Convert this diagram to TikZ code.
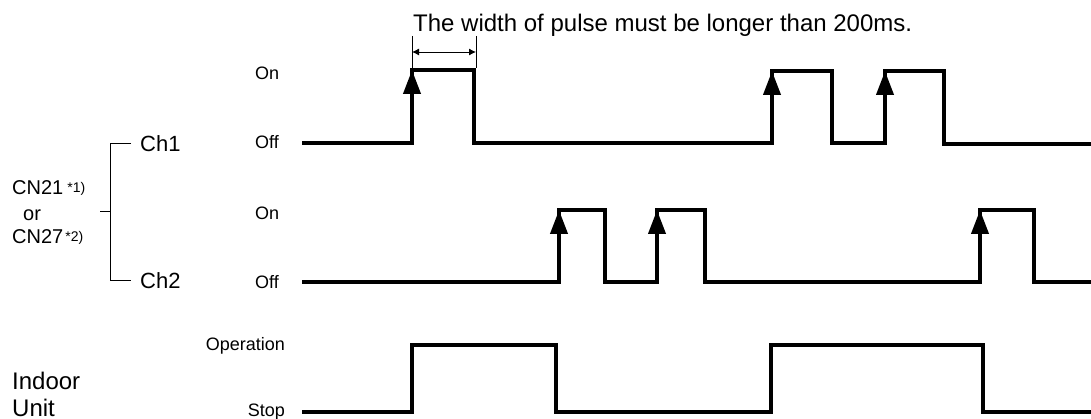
\documentclass[tikz,border=0pt]{standalone}
\usepackage{fontspec}
\setmainfont{Liberation Sans}
\usetikzlibrary{arrows.meta}
\begin{document}
\begin{tikzpicture}[x=1pt,y=-1pt,
  wave/.style={line width=4pt, line join=miter, line cap=butt},
  risearrow/.style={line width=4pt, -{Triangle[length=24pt,width=17pt]}},
  thinline/.style={line width=0.9pt},
  dimarrow/.style={line width=0.9pt, {Latex[length=7pt,width=7pt]}-{Latex[length=7pt,width=7pt]}},
  lvl/.style={inner sep=0pt, font=\fontsize{18}{20}\selectfont},
  chan/.style={inner sep=0pt, font=\fontsize{22}{24}\selectfont},
  conn/.style={inner sep=0pt, font=\fontsize{20}{22}\selectfont},
  big/.style={inner sep=0pt, font=\fontsize{24}{26}\selectfont}]
\useasboundingbox (0,0) rectangle (1091,419);

% title and dimension
\node[big, anchor=base west] (title) at (413,32) {The width of pulse must be longer than 200ms.};
\coordinate (e1t) at (412,36); \coordinate (e1b) at (412,68);
\coordinate (e2t) at (476,36); \coordinate (e2b) at (476,68);
\coordinate (d1) at (412,52); \coordinate (d2) at (476,52);
\draw[thinline] (e1t) -- (e1b);
\draw[thinline] (e2t) -- (e2b);
\draw[dimarrow] (d1) -- (d2);

% level labels
\node[lvl, anchor=base west] (on1) at (255,79.5) {On};
\node[lvl, anchor=base west] (off1) at (255,148.5) {Off};
\node[lvl, anchor=base west] (on2) at (255,219.5) {On};
\node[lvl, anchor=base west] (off2) at (255,288.5) {Off};
\node[lvl, anchor=base east] (oper) at (285,350.5) {Operation};
\node[lvl, anchor=base east] (stop) at (285,416) {Stop};

% channel labels and bracket
\node[chan, anchor=base west] (ch1) at (140,152) {Ch1};
\node[chan, anchor=base west] (ch2) at (140,288) {Ch2};
\coordinate (bt) at (131,143); \coordinate (btc) at (110,143);
\coordinate (bb) at (131,280); \coordinate (bbc) at (110,280);
\coordinate (tk1) at (100,211); \coordinate (tk2) at (110,211);
\draw[thinline] (bt) -- (btc) -- (bbc) -- (bb);
\draw[thinline] (tk1) -- (tk2);
\node[conn, anchor=base west] (cn21) at (12,195) {CN21\hspace{4pt}\raisebox{2pt}{\fontsize{14}{15}\selectfont *1)}};
\node[conn, anchor=base west] (orl) at (23,221) {or};
\node[conn, anchor=base west] (cn27) at (12,244) {CN27\hspace{2pt}\raisebox{2pt}{\fontsize{14}{15}\selectfont *2)}};
\node[big, anchor=base west] (indoor) at (12,389) {Indoor};
\node[big, anchor=base west] (unit) at (12,416) {Unit};

% Ch1 waveform
\draw[wave] (302,143) -- (412,143) -- (412,70) -- (474,70) -- (474,143) -- (772,143) -- (772,71) -- (832,71) -- (832,143) -- (885,143) -- (885,71) -- (944,71) -- (944,144) -- (1091,144);
\draw[risearrow] (412,143) -- (412,70);
\draw[risearrow] (772,143) -- (772,71);
\draw[risearrow] (885,143) -- (885,71);

% Ch2 waveform
\draw[wave] (302,282) -- (559,282) -- (559,210) -- (605,210) -- (605,282) -- (657,282) -- (657,210) -- (705,210) -- (705,282) -- (980,282) -- (980,210) -- (1034,210) -- (1034,282) -- (1091,282);
\draw[risearrow] (559,282) -- (559,210);
\draw[risearrow] (657,282) -- (657,210);
\draw[risearrow] (980,282) -- (980,210);

% Indoor unit waveform
\draw[wave] (302,412) -- (412,412) -- (412,345) -- (556,345) -- (556,412) -- (771,412) -- (771,345) -- (983,345) -- (983,412) -- (1091,412);
\end{tikzpicture}
\end{document}
